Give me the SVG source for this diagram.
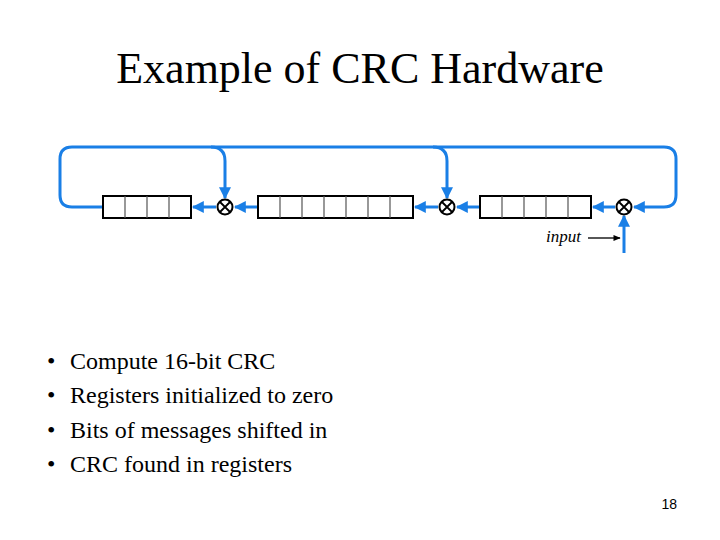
<svg xmlns="http://www.w3.org/2000/svg" width="720" height="540" viewBox="0 0 720 540">
<style>
.w{fill:none;stroke:#1a7fe6;stroke-width:3}
.reg{fill:#fff;stroke:#000;stroke-width:2}
.cell{stroke:#555;stroke-width:1.2}
.x{fill:#fff;stroke:#000;stroke-width:2}
.t{font-family:"Liberation Serif",serif;fill:#000}
</style>
<defs>
<marker id="a" viewBox="0 0 10 10" refX="9" refY="5" markerWidth="4" markerHeight="4" orient="auto"><path d="M0,0L10,5L0,10z" fill="#1a7fe6"/></marker>
<marker id="k" viewBox="0 0 10 10" refX="9" refY="5" markerWidth="5" markerHeight="4" orient="auto"><path d="M0,1L10,5L0,9z" fill="#000"/></marker>
</defs>
<rect width="720" height="540" fill="#fff"/>
<text class="t" x="360" y="83" font-size="44" text-anchor="middle">Example of CRC Hardware</text>
<g id="connectors">
<path class="w" d="M103,207H72Q60,207 60,195V159Q60,147 72,147H664Q676,147 676,159V195Q676,207 664,207H634" marker-end="url(#a)"/>
<path class="w" d="M211,147Q225,147 225,161V198" marker-end="url(#a)"/>
<path class="w" d="M433,147Q447,147 447,161V198" marker-end="url(#a)"/>
<path class="w" d="M216,207H193" marker-end="url(#a)"/>
<path class="w" d="M258,207H235" marker-end="url(#a)"/>
<path class="w" d="M438,207H415" marker-end="url(#a)"/>
<path class="w" d="M480,207H457" marker-end="url(#a)"/>
<path class="w" d="M615,207H593" marker-end="url(#a)"/>
<path class="w" d="M624,253V216" marker-end="url(#a)"/>
<path d="M588,238H620" stroke="#444" stroke-width="1.8" marker-end="url(#k)"/>
</g>
<g id="reg1"><rect class="reg" x="103" y="196" width="88" height="22"/><path class="cell" d="M125,196V218M147,196V218M169,196V218"/></g>
<g id="reg2"><rect class="reg" x="258" y="196" width="155" height="22"/><path class="cell" d="M280,196V218M302,196V218M324,196V218M346,196V218M368,196V218M390,196V218"/></g>
<g id="reg3"><rect class="reg" x="480" y="196" width="111" height="22"/><path class="cell" d="M502,196V218M524,196V218M546,196V218M568,196V218"/></g>
<g id="xor1"><circle class="x" cx="225" cy="207" r="7.5"/><path d="M220,202L230,212M230,202L220,212" stroke="#000" stroke-width="1.8"/></g>
<g id="xor2"><circle class="x" cx="447" cy="207" r="7.5"/><path d="M442,202L452,212M452,202L442,212" stroke="#000" stroke-width="1.8"/></g>
<g id="xor3"><circle class="x" cx="624" cy="207" r="7.5"/><path d="M619,202L629,212M629,202L619,212" stroke="#000" stroke-width="1.8"/></g>
<text class="t" x="546" y="242" font-size="17" font-style="italic" fill="#333">input</text>
<g class="t" font-size="24">
<text x="47" y="369">•</text><text x="70" y="369">Compute 16-bit CRC</text>
<text x="47" y="403">•</text><text x="70" y="403">Registers initialized to zero</text>
<text x="47" y="438">•</text><text x="70" y="438">Bits of messages shifted in</text>
<text x="47" y="472">•</text><text x="70" y="472">CRC found in registers</text>
</g>
<text x="677" y="509" font-family="Liberation Sans,sans-serif" font-size="14" text-anchor="end">18</text>
</svg>
